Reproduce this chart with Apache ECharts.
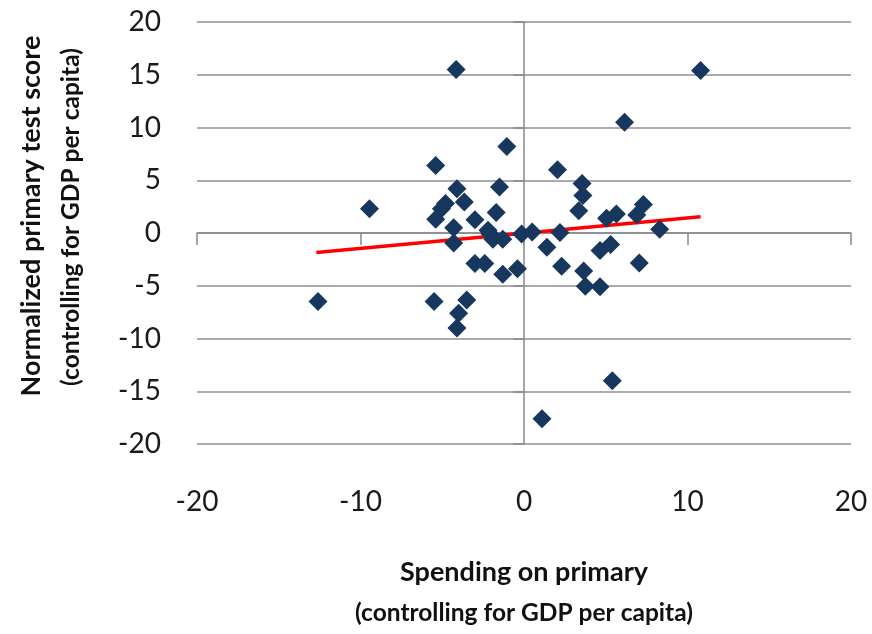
<!DOCTYPE html>
<html><head><meta charset="utf-8">
<script src="https://cdn.jsdelivr.net/npm/echarts@6/dist/echarts.min.js"></script>
<style>html,body{margin:0;padding:0;background:#fff}#c{width:872px;height:634px}</style>
</head><body><div id="c"></div>
<script>
// Spending on primary (controlling for GDP per capita)
const xVals = [-4.15, -1.05, -5.4, -4.1, -1.5, -9.45, -3.65, -4.8, -5.05, -5.4,
               -1.7, -3.0, -4.3, -4.3, -2.2, -2.1, -1.9, -1.3, -0.15, 0.5,
               1.4, -12.6, -5.5, -3.5, -4.0, -4.1, -3.0, -2.4, -1.3, -0.4,
               1.1, 10.8, 6.15, 2.05, 3.55, 3.6, 3.35, 7.3, 6.9, 5.65,
               5.05, 8.3, 2.2, 2.3, 3.65, 3.75, 4.65, 4.65, 5.3, 7.05, 5.4];
// Normalized primary test score (controlling for GDP per capita)
const yVals = [15.5, 8.2, 6.4, 4.2, 4.35, 2.3, 2.95, 2.8, 2.3, 1.3,
               1.95, 1.25, 0.5, -0.95, 0.25, -0.05, -0.6, -0.6, -0.1, 0.1,
               -1.35, -6.5, -6.5, -6.35, -7.6, -9.0, -2.9, -2.9, -3.9, -3.4,
               -17.6, 15.4, 10.5, 6.0, 4.7, 3.55, 2.1, 2.7, 1.7, 1.8,
               1.4, 0.35, 0.05, -3.15, -3.6, -5.05, -5.1, -1.65, -1.1, -2.85, -14.0];
// Linear trend line endpoints
const trendX = [-12.7, 10.8];
const trendY = [-1.85, 1.53];
// Axis ranges / tick steps
const xRange = [-20, 20], xStep = 10;
const yRange = [-20, 20], yStep = 5;
const xTitleLines = ['Spending on primary', '(controlling for GDP per capita)'];
const yTitleLines = ['Normalized primary test score', '(controlling for GDP per capita)'];

const points = xVals.map((x, i) => [x, yVals[i]]);
const trend = trendX.map((x, i) => [x, trendY[i]]);

const axisGray = '#898989';
const gridGray = '#ababab';
const labelFont = { fontFamily: 'Lato', fontSize: 28, color: '#1a1a1a' };
const titleFont1 = 'bold 27px Lato';
const titleFont2 = 'bold 24.5px Lato';

function titleText(text, x, y, font, rot) {
  return { type: 'text', x: x, y: y, rotation: rot || 0,
    style: { text: text, font: font, fill: '#111', textAlign: 'center', textVerticalAlign: 'middle' } };
}

const chart = echarts.init(document.getElementById('c'), null, { renderer: 'canvas' });
chart.setOption({
  animation: false,
  backgroundColor: '#ffffff',
  grid: { left: 197, right: 21, top: 22, bottom: 190, containLabel: false, outerBoundsMode: 'none' },
  xAxis: [
    { type: 'value', min: xRange[0], max: xRange[1], interval: xStep, position: 'bottom',
      axisLine: { show: false, onZero: false }, axisTick: { show: false }, splitLine: { show: false },
      axisLabel: Object.assign({ margin: 44 }, labelFont) },
    { type: 'value', min: xRange[0], max: xRange[1], interval: xStep, position: 'bottom',
      axisLine: { show: true, onZero: true, lineStyle: { color: axisGray, width: 1.5 } },
      axisTick: { show: true, length: 12, lineStyle: { color: axisGray, width: 1.5 } },
      axisLabel: { show: false }, splitLine: { show: false } }
  ],
  yAxis: [
    { type: 'value', min: yRange[0], max: yRange[1], interval: yStep, position: 'left',
      axisLine: { show: false, onZero: false }, axisTick: { show: false },
      splitLine: { show: true, lineStyle: { color: gridGray, width: 2 } },
      axisLabel: Object.assign({ margin: 36 }, labelFont) },
    { type: 'value', min: yRange[0], max: yRange[1], interval: yStep, position: 'left',
      axisLine: { show: true, onZero: true, lineStyle: { color: axisGray, width: 1.5 } },
      axisTick: { show: true, length: 11, lineStyle: { color: axisGray, width: 1.5 } },
      axisLabel: { show: false }, splitLine: { show: false } }
  ],
  series: [
    { type: 'line', data: trend, xAxisIndex: 0, yAxisIndex: 0, symbol: 'none', z: 2,
      lineStyle: { color: '#ff0000', width: 3.5 } },
    { type: 'scatter', data: points, xAxisIndex: 0, yAxisIndex: 0, symbol: 'diamond', symbolSize: 19, z: 3,
      itemStyle: { color: '#17375e', opacity: 1 } }
  ],
  graphic: [
    titleText(xTitleLines[0], 524, 572, titleFont1),
    titleText(xTitleLines[1], 524, 613, titleFont2),
    titleText(yTitleLines[0], 31, 216, titleFont1, Math.PI / 2),
    titleText(yTitleLines[1], 71, 217, titleFont2, Math.PI / 2)
  ]
});
</script></body></html>
